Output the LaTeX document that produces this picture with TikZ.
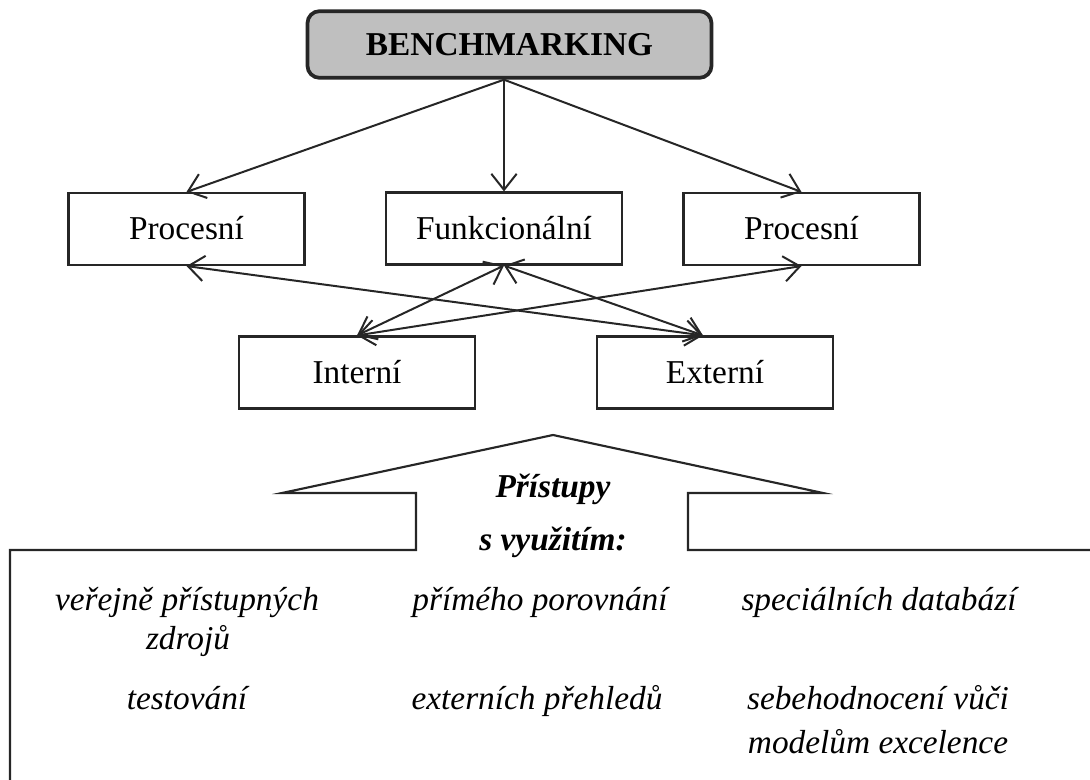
\documentclass[tikz,border=0pt]{standalone}
\usepackage{fontspec}
\setmainfont{Liberation Serif}
\usetikzlibrary{arrows.meta,calc}

\tikzset{
  boxfont/.style={font=\fontsize{25}{30}\selectfont},
  evenbox/.style={text height=19.5pt, text depth=3pt},
  titlebox/.style={draw=black!85, line width=2.8pt, rounded corners=9pt,
    fill=black!25, minimum width=303pt, minimum height=50pt, evenbox,
    font=\fontsize{25}{30}\selectfont\bfseries},
  typebox/.style={draw=black!85, line width=1.6pt, minimum width=177pt,
    minimum height=54pt, boxfont, evenbox},
  barb/.tip={Straight Barb[length=12pt,width=19pt,line width=1.5pt]},
  link/.style={draw=black!85, line width=1.5pt, -barb},
  twoway/.style={draw=black!85, line width=1.5pt, barb-barb},
  approach/.style={font=\fontsize{25}{30}\selectfont\itshape, align=center,
    inner sep=0pt, evenbox},
  headline/.style={font=\fontsize{25}{30}\selectfont\bfseries\itshape,
    inner sep=0pt, evenbox}
}

\begin{document}
\begin{tikzpicture}[x=0.75pt, y=-0.75pt]
  \useasboundingbox (0,0) rectangle (1090,780);

  % top node
  \node[titlebox] (bench) at (509.5,44.5) {BENCHMARKING};

  % first level: kinds of benchmarking
  \node[typebox] (p1) at (186.5,229) {Procesní};
  \node[typebox] (fn) at (504,228.5) {Funkcionální};
  \node[typebox] (p2) at (801.5,229) {Procesní};

  % second level
  \node[typebox] (int) at (357,372.5) {Interní};
  \node[typebox] (ext) at (715,372.5) {Externí};

  \coordinate (root) at (fn.north |- bench.south);
  \coordinate (extin) at ($(ext.north)+(-12,0)$);

  % links from the top node
  \draw[link] (root) -- (p1.north);
  \draw[link] (root) -- (fn.north);
  \draw[link] (root) -- (p2.north);

  % crossing links between the two levels
  \draw[twoway] (p1.south) -- (extin);
  \draw[twoway] (fn.south) -- (int.north);
  \draw[twoway] (fn.south) -- (extin);
  \draw[twoway] (p2.south) -- (int.north);

  % arrow-shaped frame with the list of approaches
  \begin{scope}
    \clip (0,0) rectangle (1090,780);
    \draw[black!85, line width=1.6pt, line join=miter]
      (10,800) -- (10,550) -- (416,550) -- (416,493) -- (282,493)
      -- (553,435) -- (823,493) -- (688,493) -- (688,550) -- (1100,550);
  \end{scope}

  \node[headline] (hd1) at (553,487) {Přístupy};
  \node[headline] (hd2) at (553,540) {s využitím:};

  \node[approach] (a1) at (187,600) {veřejně přístupných};
  \node[approach] (a1b) at (188,639) {zdrojů};
  \node[approach] (a2) at (540,600) {přímého porovnání};
  \node[approach] (a3) at (879,600) {speciálních databází};
  \node[approach] (a4) at (187,699) {testování};
  \node[approach] (a5) at (537,699) {externích přehledů};
  \node[approach] (a6) at (878,699) {sebehodnocení vůči};
  \node[approach] (a6b) at (878,742) {modelům excelence};
\end{tikzpicture}
\end{document}
